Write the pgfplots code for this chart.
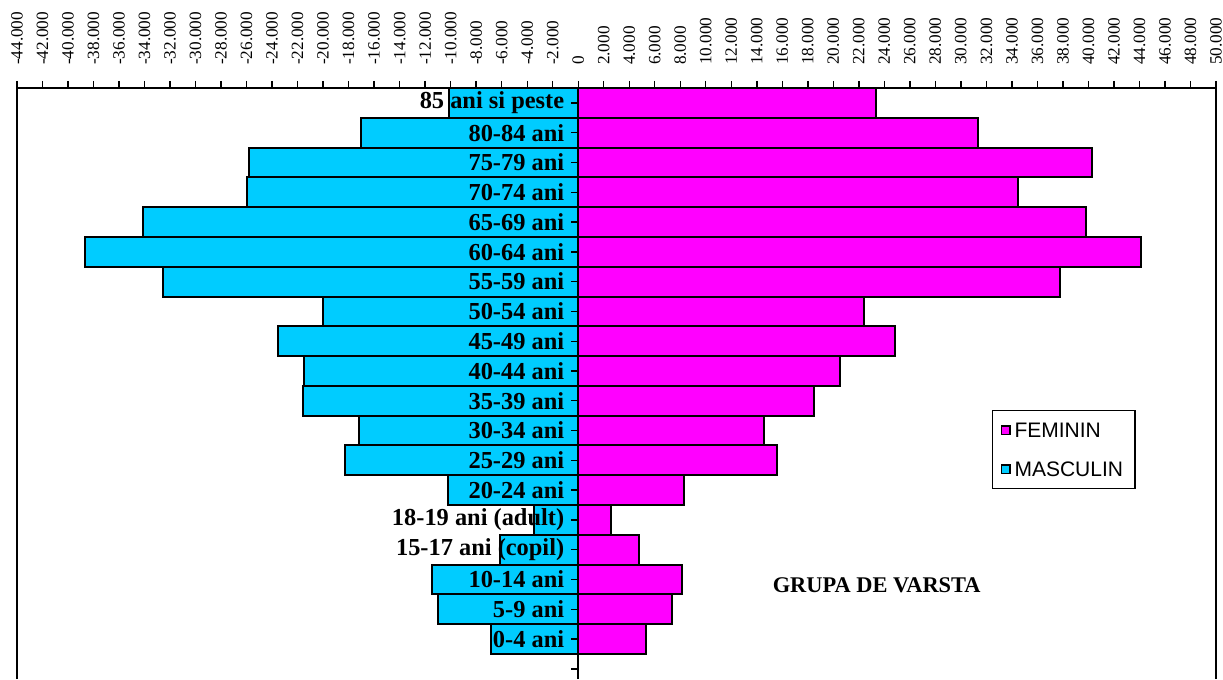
\documentclass[border=0pt]{standalone}
\usepackage{pgfplots}
\pgfplotsset{compat=1.18}
\usepackage{fontspec}
\setmainfont{Liberation Serif}
\newfontfamily\legendfont{Liberation Sans}
\definecolor{masc}{HTML}{00CCFF}
\definecolor{fem}{HTML}{FF00FF}

% 1 px of the reference = 0.5pt
\begin{document}
\begin{tikzpicture}
\begin{axis}[
    scale only axis,
    width=599.5pt, height=295.5pt,
    xmin=-44000, xmax=50000,
    ymin=-0.339, ymax=19.5,
    clip=false,
    axis on top,
    axis x line=top, axis y line=middle,
    axis line style={-, line width=1pt},
    every inner y axis line/.append style={-},
    every outer x axis line/.append style={-},
    hide obscured x ticks=false, hide obscured y ticks=false,
    tick align=outside,
    major tick length=3.5pt,
    tick style={black, line width=0.7pt},
    xtick={-44000,-42000,...,50000},
    scaled x ticks=false,
    /pgf/number format/fixed,
    /pgf/number format/precision=0,
    /pgf/number format/1000 sep={.},
    /pgf/number format/assume math mode=true,
    xticklabel style={rotate=90, anchor=west, font=\fontsize{8.6}{10}\selectfont},
    xticklabel shift=4.5pt,
    ytick={0,...,19},
    yticklabels={{},{0-4 ani\ },{5-9 ani},{10-14 ani},{15-17 ani (copil)},{18-19 ani (adult)},
      {20-24 ani},{25-29 ani},{30-34 ani},{35-39 ani},{40-44 ani},{45-49 ani},{50-54 ani},
      {55-59 ani},{60-64 ani},{65-69 ani},{70-74 ani},{75-79 ani},{80-84 ani},{85 ani si peste}},
    yticklabel style={font=\bfseries\fontsize{12.2}{14}\selectfont, anchor=east},
    xbar, bar width=1, bar shift=0pt,
    legend image code/.code={\draw[#1, line width=0.7pt] (0pt,-2.1pt) rectangle (4.2pt,2.1pt);},
    legend cell align=left,
    legend style={at={(rel axis cs:0.8132,0.4552)}, anchor=north west,
      draw=black, line width=0.7pt, inner sep=4pt, row sep=8pt,
      font=\legendfont\fontsize{10.5}{12}\selectfont,
      nodes={inner sep=2pt, text height=7.5pt, text depth=0pt}},
]
\addplot[fill=fem, draw=black, line width=1pt] coordinates {
    (5300,1) (7350,2) (8150,3) (4800,4) (2600,5) (8300,6) (15600,7) (14600,8)
    (18500,9) (20550,10) (24800,11) (22400,12) (37800,13) (44100,14) (39800,15)
    (34500,16) (40300,17) (31350,18) (23350,19)
};
\addlegendentry{FEMININ}
\addplot[fill=masc, draw=black, line width=1pt] coordinates {
    (-6800,1) (-11020,2) (-11480,3) (-6120,4) (-3480,5) (-10210,6) (-18270,7) (-17170,8)
    (-21560,9) (-21520,10) (-23560,11) (-20000,12) (-32550,13) (-38650,14) (-34100,15)
    (-25950,16) (-25800,17) (-17000,18) (-10100,19)
};
\addlegendentry{MASCULIN}
\node[font=\bfseries\fontsize{11.2}{13}\selectfont] at (axis cs:23400,2.82) {GRUPA DE VARSTA};
\draw[line width=1pt] (rel axis cs:0,0) -- (rel axis cs:0,1);
\draw[line width=1pt] (rel axis cs:1,0) -- (rel axis cs:1,1);
\coordinate (bbl) at (rel axis cs:-0.014178,0);
\coordinate (btr) at (rel axis cs:1.005838,1.14890);
\end{axis}
\pgfresetboundingbox
\path[use as bounding box] (bbl) rectangle (btr);
\end{tikzpicture}
\end{document}
